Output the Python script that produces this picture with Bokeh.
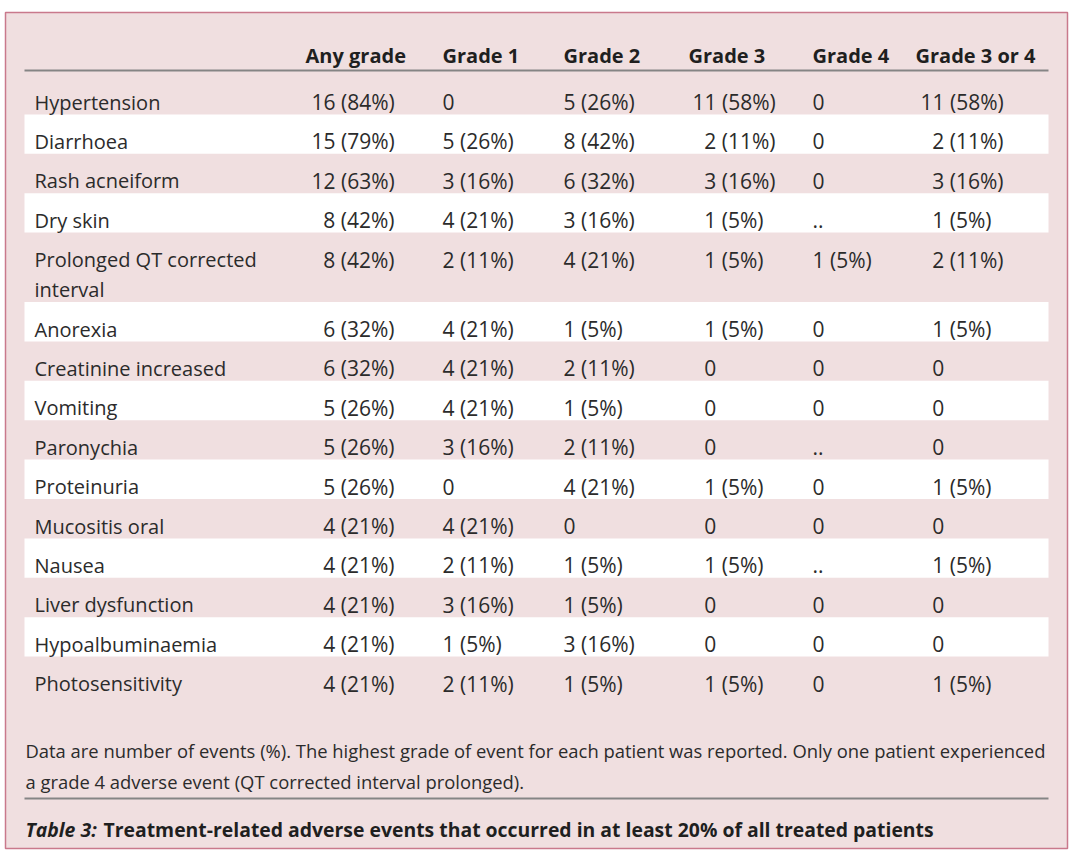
from bokeh.plotting import figure
from bokeh.models import Range1d, ColumnDataSource
from bokeh.embed import file_html
from bokeh.resources import INLINE
from bokeh.core.properties import value

# ---------------- data ----------------
headers = ["Any grade", "Grade 1", "Grade 2", "Grade 3", "Grade 4", "Grade 3 or 4"]

events = [
    ["Hypertension"],
    ["Diarrhoea"],
    ["Rash acneiform"],
    ["Dry skin"],
    ["Prolonged QT corrected", "interval"],
    ["Anorexia"],
    ["Creatinine increased"],
    ["Vomiting"],
    ["Paronychia"],
    ["Proteinuria"],
    ["Mucositis oral"],
    ["Nausea"],
    ["Liver dysfunction"],
    ["Hypoalbuminaemia"],
    ["Photosensitivity"],
]

any_grade = ["16 (84%)", "15 (79%)", "12 (63%)", "8 (42%)", "8 (42%)", "6 (32%)", "6 (32%)",
             "5 (26%)", "5 (26%)", "5 (26%)", "4 (21%)", "4 (21%)", "4 (21%)", "4 (21%)", "4 (21%)"]
grade_1 = ["0", "5 (26%)", "3 (16%)", "4 (21%)", "2 (11%)", "4 (21%)", "4 (21%)", "4 (21%)",
           "3 (16%)", "0", "4 (21%)", "2 (11%)", "3 (16%)", "1 (5%)", "2 (11%)"]
grade_2 = ["5 (26%)", "8 (42%)", "6 (32%)", "3 (16%)", "4 (21%)", "1 (5%)", "2 (11%)", "1 (5%)",
           "2 (11%)", "4 (21%)", "0", "1 (5%)", "1 (5%)", "3 (16%)", "1 (5%)"]
grade_3 = ["11 (58%)", "2 (11%)", "3 (16%)", "1 (5%)", "1 (5%)", "1 (5%)", "0", "0", "0",
           "1 (5%)", "0", "1 (5%)", "0", "0", "1 (5%)"]
grade_4 = ["0", "0", "0", "..", "1 (5%)", "0", "0", "0", "..", "0", "0", "..", "0", "0", "0"]
grade_3_or_4 = ["11 (58%)", "2 (11%)", "3 (16%)", "1 (5%)", "2 (11%)", "1 (5%)", "0", "0", "0",
                "1 (5%)", "0", "1 (5%)", "0", "0", "1 (5%)"]

columns = [any_grade, grade_1, grade_2, grade_3, grade_4, grade_3_or_4]

footnote_lines = [
    "Data are number of events (%). The highest grade of event for each patient was reported. Only one patient experienced",
    "a grade 4 adverse event (QT corrected interval prolonged).",
]
caption_label = "Table 3:"
caption_text = "Treatment-related adverse events that occurred in at least 20% of all treated patients"

# ---------------- style / layout ----------------
FONT = "Open Sans"
TEXT = "#2b2b2b"
PINK = "#f0dfe0"
BORDER = "#c9798c"
RULE = "#858585"

W, H = 1078, 856
p = figure(width=W, height=H, output_backend="svg", toolbar_location=None,
           x_range=Range1d(0, W), y_range=Range1d(H, 0),
           min_border=0, min_border_left=0, min_border_right=0,
           min_border_top=0, min_border_bottom=0)
p.axis.visible = False
p.grid.visible = False
p.outline_line_color = None
p.background_fill_color = "white"
p.border_fill_color = "white"

# outer box
p.quad(left=[5], right=[1067], top=[12], bottom=[848], fill_color=PINK,
       line_color=BORDER, line_width=1.5)

LEFT, RIGHT = 24, 1048
ROW_H = 39.4
EXTRA_LINE = 30
y = 74.5
row_tops, row_bottoms = [], []
for lines in events:
    h = ROW_H + EXTRA_LINE * (len(lines) - 1)
    row_tops.append(y)
    row_bottoms.append(y + h)
    y += h

# white stripes on alternate rows
wt = [row_tops[i] for i in range(len(events)) if i % 2 == 1]
wb = [row_bottoms[i] for i in range(len(events)) if i % 2 == 1]
p.quad(left=[LEFT] * len(wt), right=[RIGHT] * len(wt), top=wt, bottom=wb,
       fill_color="white", line_color=None)

# rules
p.segment(x0=[LEFT, LEFT], x1=[RIGHT, RIGHT], y0=[70, 798], y1=[70, 798],
          line_color=RULE, line_width=2)

# header
header_x = [305, 442, 563, 688, 812, 915]
p.text(x=header_x, y=[55] * len(headers), text=headers, text_font=value(FONT),
       text_font_style="bold", text_font_size="20px", text_color="#1f1f1f",
       text_baseline="alphabetic", text_align="left")

# event labels
lx, ly, lt = [], [], []
for i, lines in enumerate(events):
    for k, t in enumerate(lines):
        lx.append(34)
        ly.append(row_tops[i] + 27 + EXTRA_LINE * k)
        lt.append(t)
p.text(x=lx, y=ly, text=lt, text_font=value(FONT), text_font_size="20px",
       text_color=TEXT, text_baseline="alphabetic", text_align="left")

# values
col_x = [311, 442, 563, 692, 812, 920]
DIGIT_W = 11.8
for cx, col in zip(col_x, columns):
    lead = [s.split(" ")[0] for s in col]
    two = any(len(t) == 2 and t.isdigit() for t in lead)
    xs = []
    for t in lead:
        off = DIGIT_W if (two and not (len(t) == 2 and t.isdigit())) else 0
        xs.append(cx + off)
    ys = [row_tops[i] + 27 for i in range(len(col))]
    src = ColumnDataSource(dict(x=xs, y=ys, t=col))
    p.text(x="x", y="y", text="t", source=src, text_font=value(FONT),
           text_font_size="21px", text_color=TEXT, text_baseline="alphabetic",
           text_align="left")

# footnote
p.text(x=[25, 25], y=[750, 781], text=footnote_lines, text_font=value(FONT),
       text_font_size="18.4px", text_color=TEXT, text_baseline="alphabetic",
       text_align="left")

# caption
p.text(x=[25], y=[829], text=[caption_label], text_font=value(FONT),
       text_font_style="bold italic", text_font_size="19.4px", text_color="#1f1f1f",
       text_baseline="alphabetic", text_align="left")
p.text(x=[103], y=[829], text=[caption_text], text_font=value(FONT),
       text_font_style="bold", text_font_size="19.4px", text_color="#1f1f1f",
       text_baseline="alphabetic", text_align="left")

open("out.html", "w").write(file_html(p, INLINE))
